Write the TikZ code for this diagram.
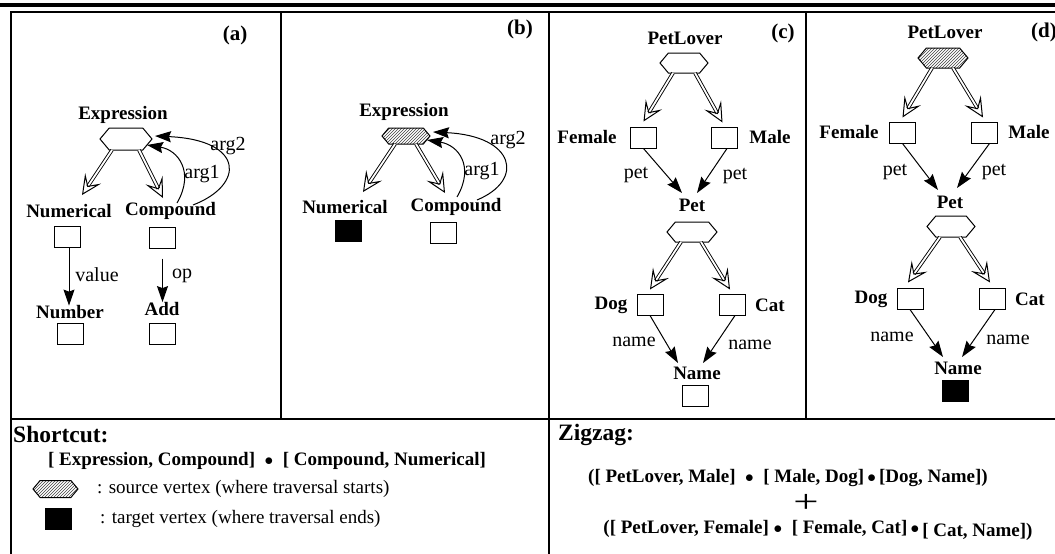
\documentclass[tikz,border=0pt]{standalone}
\usepackage{fontspec}
\setmainfont{Liberation Serif}
\usetikzlibrary{arrows.meta,shapes.symbols,patterns}
\begin{document}
\begin{tikzpicture}[x=1pt,y=-1pt,
  lbl/.style={font=\fontsize{19}{21}\selectfont\bfseries, inner sep=0pt},
  plbl/.style={font=\fontsize{21}{23}\selectfont\bfseries, inner sep=0pt},
  elbl/.style={font=\fontsize{20}{22}\selectfont, inner sep=0pt},
  ttl/.style={font=\fontsize{23.5}{25}\selectfont\bfseries, inner sep=0pt, anchor=west},
  frm/.style={font=\fontsize{19}{21}\selectfont\bfseries, inner sep=0pt},
  lgd/.style={font=\fontsize{19}{21}\selectfont, inner sep=0pt, anchor=west},
  vbox/.style={draw, line width=1pt, minimum width=26pt, minimum height=21pt, inner sep=0pt},
  tbox/.style={vbox, fill=black},
  hexs/.style={draw, line width=1pt, shape=signal, signal to=east and west,
    signal pointer angle=100, inner sep=0pt, minimum width=#1},
  src/.style={hexs=#1, pattern=north east lines, pattern color=black!75},
  dbl/.style={draw, double, double distance=1.8pt, line width=0.9pt,
    -{Stealth[open, length=20pt, width=19pt, inset=9pt, line width=1pt]}},
  sarr/.style={draw, line width=1pt, -{Stealth[length=16pt, width=11pt, inset=2pt]}},
  frame/.style={line width=1.5pt}
]
\useasboundingbox (0,0) rectangle (1055,554);
% frame
\draw[line width=3.5pt] (0,5) -- (1055,5);
\draw[frame] (11,554) -- (11,12) -- (1055,12);
\draw[frame] (11,419) -- (1055,419);
\draw[line width=1.2pt] (281,12) -- (281,419);
\draw[line width=1.2pt] (549,12) -- (549,554);
\draw[line width=1.2pt] (806,12) -- (806,419);

% ---------- (a)
\node[plbl] (ta) at (235,35) {(a)};
\node[lbl] (expa) at (123,115) {Expression};
\node[hexs=52pt, minimum height=22pt] (hexa) at (126,139) {};
\node[lbl] (numa) at (69,211) {Numerical};
\node[lbl] (compa) at (170.5,211) {Compound};
\node[vbox] (nboxa) at (67.5,236.5) {};
\node[vbox] (cboxa) at (162.5,237.5) {};
\node[lbl] (numbera) at (70,312.5) {Number};
\node[lbl] (adda) at (162,309) {Add};
\node[vbox] (nbboxa) at (70,334) {};
\node[vbox] (aboxa) at (162.5,334) {};
\node[elbl] (arg2a) at (228,146) {arg2};
\node[elbl] (arg1a) at (202,174) {arg1};
\node[elbl] (vala) at (97,274.5) {value};
\node[elbl] (opa) at (182,276) {op};
\draw[dbl] ([xshift=-14pt,yshift=-11pt]hexa.center) -- ([xshift=13pt,yshift=16pt]numa.center);
\draw[dbl] ([xshift=13pt,yshift=-11pt]hexa.center) -- ([xshift=-7.5pt,yshift=13pt]compa.center);
\draw[sarr] ([xshift=6.5pt,yshift=8pt]compa.center) .. controls +(18,-31) and +(31,5) .. ([xshift=21pt,yshift=-6pt]hexa.center);
\draw[sarr] ([xshift=22.5pt,yshift=6pt]compa.center) .. controls +(52,-20) and +(90,4) .. ([xshift=29pt,yshift=3pt]hexa.center);
\draw[sarr] ([xshift=1.5pt]nboxa.south) -- ([xshift=1.5pt]nboxa.south |- numbera.north);
\draw[sarr] ([yshift=-10pt]cboxa.south) -- (cboxa.south |- adda.north);

% ---------- (b)
\node[plbl] (tb) at (520,29) {(b)};
\node[lbl] (expb) at (404,112) {Expression};
\node[src=48pt, minimum height=16pt] (hexb) at (406,136) {};
\node[lbl] (numb) at (345,207) {Numerical};
\node[lbl] (compb) at (456,207) {Compound};
\node[tbox] (nboxb) at (348.5,231) {};
\node[vbox] (cboxb) at (443,233) {};
\node[elbl] (arg2b) at (508,140) {arg2};
\node[elbl] (arg1b) at (482,171) {arg1};
\draw[dbl] ([xshift=-11pt,yshift=-8pt]hexb.center) -- ([xshift=18pt,yshift=15pt]numb.center);
\draw[dbl] ([xshift=10pt,yshift=-8pt]hexb.center) -- ([xshift=-11pt,yshift=14pt]compb.center);
\draw[sarr] ([xshift=1pt,yshift=10pt]compb.center) .. controls +(18,-31) and +(31,5) .. ([xshift=21pt,yshift=-4pt]hexb.center);
\draw[sarr] ([xshift=21pt,yshift=7pt]compb.center) .. controls +(48,-20) and +(82,4) .. ([xshift=27pt,yshift=4pt]hexb.center);

% ---------- (c)
\node[plbl] (tc) at (783,33) {(c)};
\node[lbl] (plc) at (685,38) {PetLover};
\node[hexs=48pt, minimum height=20pt] (hexc) at (684,63) {};
\node[lbl] (femc) at (587,137) {Female};
\node[vbox] (fboxc) at (643.5,137.5) {};
\node[vbox] (mboxc) at (724.5,137.5) {};
\node[lbl] (malc) at (770,137) {Male};
\node[elbl] (pet1c) at (636,175) {pet};
\node[elbl] (pet2c) at (735,176) {pet};
\node[lbl] (petc) at (692,205) {Pet};
\node[hexs=50pt, minimum height=20pt] (hex2c) at (692,232) {};
\node[lbl] (dogc) at (611,305) {Dog};
\node[vbox] (dboxc) at (650,304.5) {};
\node[vbox] (caboxc) at (732.5,304.5) {};
\node[lbl] (catc) at (770,305) {Cat};
\node[elbl] (nm1c) at (634,342) {name};
\node[elbl] (nm2c) at (750,345) {name};
\node[lbl] (namec) at (697,373) {Name};
\node[vbox] (nmboxc) at (695.5,395.5) {};
\draw[dbl] ([xshift=-11pt,yshift=-10pt]hexc.center) -- ([yshift=5pt]fboxc.north);
\draw[dbl] ([xshift=11pt,yshift=-10pt]hexc.center) -- ([xshift=-2pt,yshift=4pt]mboxc.north);
\draw[sarr] (fboxc.south) -- ([xshift=-10pt,yshift=12pt]petc.center);
\draw[sarr] ([xshift=2.5pt]mboxc.south) -- ([xshift=5pt,yshift=12pt]petc.center);
\draw[dbl] ([xshift=-11pt,yshift=-10pt]hex2c.center) -- ([yshift=4pt]dboxc.north);
\draw[dbl] ([xshift=9pt,yshift=-10pt]hex2c.center) -- ([xshift=-2.5pt,yshift=4pt]caboxc.north);
\draw[sarr] (dboxc.south) -- ([xshift=-19pt,yshift=10pt]namec.center);
\draw[sarr] ([xshift=2.5pt]caboxc.south) -- ([xshift=6pt,yshift=10pt]namec.center);

% ---------- (d)
\node[plbl] (td) at (1044,32) {(d)};
\node[lbl] (pld) at (945,32) {PetLover};
\node[src=50pt, minimum height=20pt] (hexd) at (943,58) {};
\node[lbl] (femd) at (849,132) {Female};
\node[vbox] (fboxd) at (902.5,132.5) {};
\node[vbox] (mboxd) at (984.5,132.5) {};
\node[lbl] (mald) at (1029,132) {Male};
\node[elbl] (pet1d) at (895,172) {pet};
\node[elbl] (pet2d) at (994,172) {pet};
\node[lbl] (petd) at (950,202) {Pet};
\node[hexs=48pt, minimum height=21pt] (hex2d) at (951,226.5) {};
\node[lbl] (dogd) at (871,299) {Dog};
\node[vbox] (dboxd) at (910,298.5) {};
\node[vbox] (caboxd) at (992.5,298.5) {};
\node[lbl] (catd) at (1030,299) {Cat};
\node[elbl] (nm1d) at (892,337) {name};
\node[elbl] (nm2d) at (1008,340) {name};
\node[lbl] (named) at (958,368) {Name};
\node[tbox] (nmboxd) at (955,390.5) {};
\draw[dbl] ([xshift=-11pt,yshift=-10pt]hexd.center) -- ([yshift=4pt]fboxd.north);
\draw[dbl] ([xshift=10pt,yshift=-10pt]hexd.center) -- ([xshift=-1.5pt,yshift=4pt]mboxd.north);
\draw[sarr] (fboxd.south) -- ([xshift=-12pt,yshift=12pt]petd.center);
\draw[sarr] ([xshift=5pt]mboxd.south) -- ([xshift=7pt,yshift=14pt]petd.center);
\draw[dbl] ([xshift=-11pt,yshift=-10.5pt]hex2d.center) -- ([xshift=-2pt,yshift=5pt]dboxd.north);
\draw[dbl] ([xshift=9pt,yshift=-10.5pt]hex2d.center) -- ([xshift=-2.5pt,yshift=5pt]caboxd.north);
\draw[sarr] (dboxd.south) -- ([xshift=-15pt,yshift=11pt]named.center);
\draw[sarr] ([xshift=2.5pt]caboxd.south) -- ([xshift=4pt,yshift=11pt]named.center);

% ---------- bottom
\node[ttl] (shortcut) at (13,435) {Shortcut:};
\node[frm] (sform) at (267,461) {[ Expression, Compound] \ $\bullet$ \ [ Compound, Numerical]};
\node[src=45pt, minimum height=17pt] (lhex) at (55.5,489) {};
\node[lgd] (lsrc) at (97,489) {: source vertex (where traversal starts)};
\node[tbox] (lbox) at (58.5,519) {};
\node[lgd] (ltgt) at (100,519) {: target vertex (where traversal ends)};
\node[ttl] (zigzag) at (558,435) {Zigzag:};
\node[frm] (zl1) at (788,478) {([ PetLover, Male] \ $\bullet$ \ [ Male, Dog]\,$\bullet$\,[Dog, Name])};
\node[font=\fontsize{32}{34}\selectfont, inner sep=0pt, xscale=1.4] (plus) at (806,503) {+};
\node[frm] (zl2) at (818,530) {([ PetLover, Female] $\bullet$ \ [ Female, Cat]\,$\bullet$\,\raisebox{-3pt}{[ Cat, Name])}};
\end{tikzpicture}
\end{document}
